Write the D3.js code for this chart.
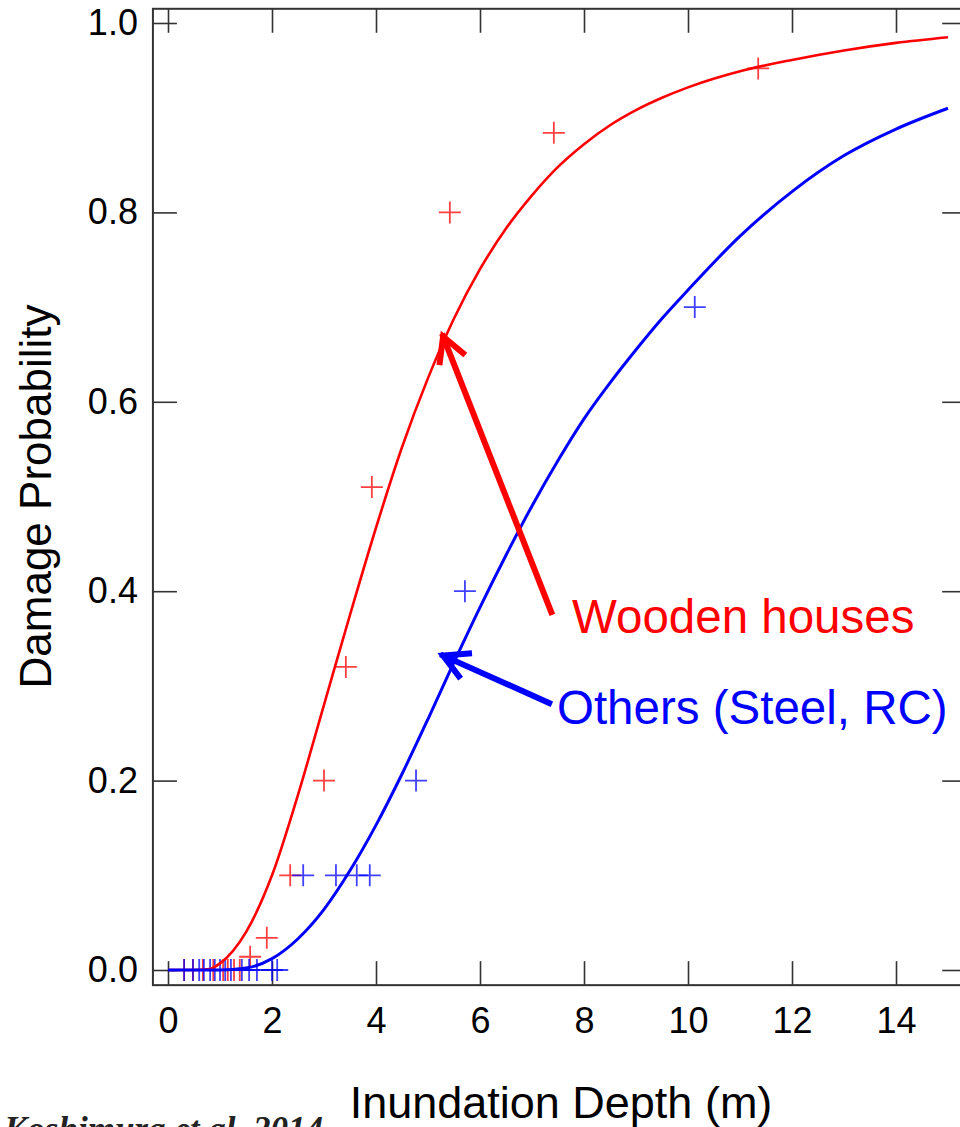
<!DOCTYPE html>
<html>
<head>
<meta charset="utf-8">
<script src="https://cdn.jsdelivr.net/npm/d3@7"></script>
<style>
  html, body { margin: 0; padding: 0; background: #fff; }
  svg { display: block; }
</style>
</head>
<body>
<svg id="chart"></svg>
<script>
// fitted curves
const curveDepth = [0, 0.5, 0.8, 1, 1.5, 2, 2.5, 3, 3.5, 4, 4.5, 5, 5.5, 6, 6.5, 7, 7.5, 8, 8.5, 9, 9.5, 10, 11, 12, 13, 14, 15];
const woodCurve  = [0, 0, 0.001, 0.007, 0.04, 0.10, 0.185, 0.28, 0.375, 0.467, 0.552, 0.625, 0.688, 0.74, 0.783, 0.818, 0.848, 0.872, 0.892, 0.908, 0.921, 0.932, 0.949, 0.961, 0.971, 0.979, 0.985];
const otherCurve = [0, 0, 0, 0, 0.002, 0.012, 0.033, 0.064, 0.105, 0.153, 0.207, 0.265, 0.325, 0.383, 0.438, 0.49, 0.538, 0.582, 0.62, 0.655, 0.688, 0.718, 0.775, 0.822, 0.86, 0.888, 0.91];

// observed points
const woodDepth = [0.31, 0.48, 0.67, 0.87, 1.06, 1.15, 1.27, 1.38, 1.58, 1.9, 2.35, 3.0, 3.42, 3.92, 5.42, 7.42, 11.35];
const woodProb  = [0, 0, 0, 0, 0, 0, 0, 0, 0.014, 0.034, 0.10, 0.20, 0.32, 0.51, 0.80, 0.884, 0.952];
const otherDepth = [0.31, 0.48, 0.6, 0.69, 0.81, 0.9, 1.0, 1.1, 1.21, 1.42, 1.56, 1.71, 2.0, 2.1, 2.6, 3.23, 3.63, 3.88, 4.77, 5.71, 10.13];
const otherProb  = [0, 0, 0, 0, 0, 0, 0, 0, 0, 0, 0, 0, 0, 0, 0.1, 0.1, 0.1, 0.1, 0.2, 0.4, 0.7];

const xTicks = [0, 2, 4, 6, 8, 10, 12, 14];
const yTicks = [0, 0.2, 0.4, 0.6, 0.8, 1.0];

const width = 960, height = 1127;
const font = "'Liberation Sans', Arial, sans-serif";

const svg = d3.select("#chart")
    .attr("width", width)
    .attr("height", height)
    .attr("viewBox", [0, 0, width, height]);

const x = d3.scaleLinear().domain([0, 15]).range([168, 948]);
const y = d3.scaleLinear().domain([0, 1]).range([970, 23]);

// frame edges in data units
const fx0 = -0.29, fx1 = 15.35, fy0 = -0.016, fy1 = 1.015;
const frameColor = "#333";
const tick = 24;

svg.append("rect")
    .attr("x", x(fx0))
    .attr("y", y(fy1))
    .attr("width", x(fx1) - x(fx0))
    .attr("height", y(fy0) - y(fy1))
    .attr("fill", "none")
    .attr("stroke", frameColor)
    .attr("stroke-width", 2);

const styleAxis = g => {
    g.select(".domain").remove();
    g.attr("font-family", font).attr("font-size", 36);
    g.selectAll(".tick line").attr("stroke", frameColor).attr("stroke-width", 1.6);
    g.selectAll(".tick text").attr("fill", "#000");
};

svg.append("g")
    .attr("transform", `translate(0,${y(fy0)})`)
    .call(d3.axisBottom(x).tickValues(xTicks).tickSizeInner(-tick).tickSizeOuter(0).tickPadding(22))
    .call(styleAxis);

svg.append("g")
    .attr("transform", `translate(0,${y(fy1)})`)
    .call(d3.axisTop(x).tickValues(xTicks).tickSizeInner(-tick).tickSizeOuter(0).tickFormat(""))
    .call(styleAxis);

svg.append("g")
    .attr("transform", `translate(${x(fx0)},0)`)
    .call(d3.axisLeft(y).tickValues(yTicks).tickSizeInner(-tick).tickSizeOuter(0).tickPadding(15).tickFormat(d3.format(".1f")))
    .call(styleAxis);

svg.append("g")
    .attr("transform", `translate(${x(fx1)},0)`)
    .call(d3.axisRight(y).tickValues(yTicks).tickSizeInner(-tick).tickSizeOuter(0).tickFormat(""))
    .call(styleAxis);

// axis titles
svg.append("text")
    .attr("x", 561)
    .attr("y", 1118)
    .attr("text-anchor", "middle")
    .attr("font-family", font)
    .attr("font-size", 45)
    .text("Inundation Depth (m)");

svg.append("text")
    .attr("transform", `translate(51,${(y(0) + y(1)) / 2})rotate(-90)`)
    .attr("text-anchor", "middle")
    .attr("font-family", font)
    .attr("font-size", 44)
    .text("Damage Probability");

// observed crosses
const cross = "M-11,0H11M0,-11V11";
const drawCrosses = (xs, ys, color) => {
    svg.append("g")
        .selectAll("path")
        .data(d3.range(xs.length))
        .join("path")
        .attr("transform", i => `translate(${x(xs[i])},${y(ys[i])})`)
        .attr("d", cross)
        .attr("fill", "none")
        .attr("stroke", color)
        .attr("stroke-opacity", 0.75)
        .attr("stroke-width", 1.8);
};
drawCrosses(woodDepth, woodProb, "#ff0000");
drawCrosses(otherDepth, otherProb, "#0000ff");

// fitted curves
const drawCurve = (vals, color, w) => {
    const line = d3.line()
        .curve(d3.curveMonotoneX)
        .x(i => x(curveDepth[i]))
        .y(i => y(vals[i]));
    svg.append("path")
        .attr("fill", "none")
        .attr("stroke", color)
        .attr("stroke-width", w)
        .attr("stroke-linejoin", "round")
        .attr("d", line(d3.range(curveDepth.length)));
};
drawCurve(woodCurve, "#ff0000", 2.6);
drawCurve(otherCurve, "#0000ff", 3);

// annotations (data units)
const notes = [
    { label: "Wooden houses", color: "#ff0000", tip: [5.29, 0.669], tail: [7.37, 0.378], at: [7.77, 0.356] },
    { label: "Others (Steel, RC)", color: "#0000ff", tip: [5.29, 0.332], tail: [7.33, 0.282], at: [7.48, 0.26] }
];

notes.forEach(n => {
    const tx = x(n.tip[0]), ty = y(n.tip[1]);
    const sx = x(n.tail[0]), sy = y(n.tail[1]);
    const ang = Math.atan2(sy - ty, sx - tx);
    const head = 26, spread = 0.5;
    const g = svg.append("g")
        .attr("fill", "none")
        .attr("stroke", n.color)
        .attr("stroke-width", 6)
        .attr("stroke-linecap", "square");
    g.append("line")
        .attr("x1", sx).attr("y1", sy)
        .attr("x2", tx).attr("y2", ty);
    g.append("path")
        .attr("stroke-linejoin", "miter")
        .attr("d", `M${tx + head * Math.cos(ang - spread)},${ty + head * Math.sin(ang - spread)}L${tx},${ty}L${tx + head * Math.cos(ang + spread)},${ty + head * Math.sin(ang + spread)}`);
    svg.append("text")
        .attr("x", x(n.at[0]))
        .attr("y", y(n.at[1]))
        .attr("fill", n.color)
        .attr("font-family", font)
        .attr("font-size", 47.5)
        .text(n.label);
});

// source note, cut by the bottom edge as in the original
svg.append("text")
    .attr("x", 4)
    .attr("y", 1141)
    .attr("font-family", "'Liberation Serif', 'DejaVu Serif', serif")
    .attr("font-style", "italic")
    .attr("font-weight", "bold")
    .attr("font-size", 35)
    .attr("fill", "#222")
    .text("Koshimura et al. 2014");
</script>
</body>
</html>
